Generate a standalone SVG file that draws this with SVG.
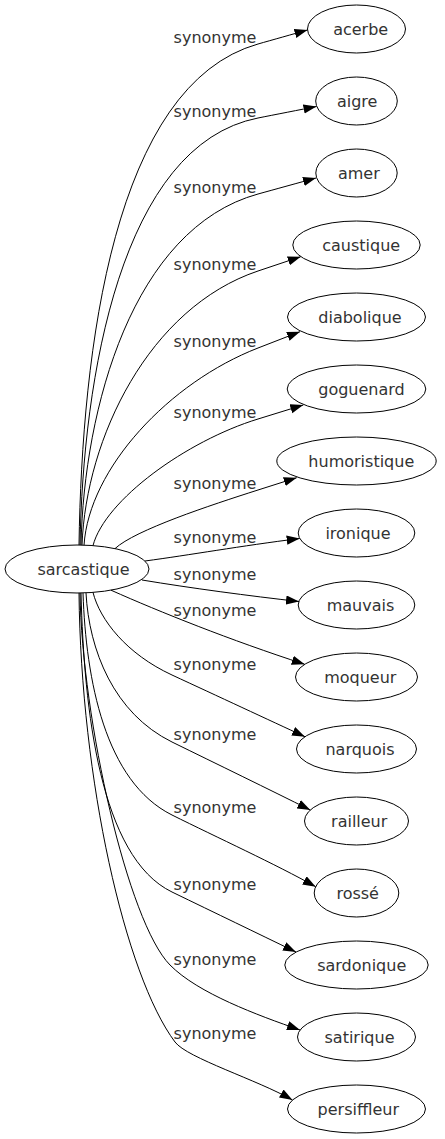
<svg xmlns="http://www.w3.org/2000/svg" width="445" height="1139" viewBox="0 0 445 1139">
<style>
.node ellipse{fill:none;stroke:#000;stroke-width:1}
text{font-family:"DejaVu Sans","Liberation Sans",sans-serif;font-size:16px;fill:#333;text-anchor:middle}
.edges path{fill:none;stroke:#000;stroke-width:1;marker-end:url(#arr)}
</style>
<defs>
<marker id="arr" markerUnits="userSpaceOnUse" markerWidth="14" markerHeight="10" refX="13" refY="4.67" orient="auto">
<path d="M0,0 L13,4.67 L0,9.33 z" fill="#000"/>
</marker>
</defs>
<rect width="445" height="1139" fill="#fff"/>
<g id="edges" class="edges">
<path d="M79,545 C82,350 113.5,84.8 258,44 C272.4,39.9 293.1,34.1 307.5,30"/>
<path d="M80,545 C83,378.5 120.7,145 258,118 C272.7,115.1 301.8,109.4 316.5,106.5"/>
<path d="M81,545 C84,408 132.7,228.6 258,194 C272.5,190 301.5,182 316,178"/>
<path d="M82,545.2 C86,438 149,307.6 258,271 C272.2,266.2 286.5,261.5 300.7,256.7"/>
<path d="M84,545.3 C89,468 169.5,382.4 258,348 C272,342.6 286,337.1 300,331.7"/>
<path d="M93,545.6 C105,500 186.3,441 258,419 C273,414.3 288.3,409.6 303.3,405"/>
<path d="M115,548.6 C135,530 210.4,505.2 258,490 C271,485.9 283.8,481.8 296.7,477.7"/>
<path d="M145,561 C190,555 240,546 299.7,538.5"/>
<path d="M142,580 C190,588 250,596 299,601.5"/>
<path d="M111,590.2 C160,612 230,640 304.7,664.3"/>
<path d="M93,592.4 C100,620 126.6,654 172,675 C217.4,696 268.7,719.9 305,736.7"/>
<path d="M86,592.9 C89,650 113.7,713.3 172,742 C216.9,764 269.9,789.8 310.3,810"/>
<path d="M83,593 C86,680 104.9,781.5 172,815 C216.8,837.3 276,864.4 315.7,886.7"/>
<path d="M81,593 C84,710 100,857.2 172,892 C217,913.8 255.5,932.4 296,952"/>
<path d="M80,593 C82,720 128,922.4 170,965 C198,993.4 257.7,1015.2 300,1030"/>
<path d="M79,593 C81,780 125,975 175,1042 C187,1058 257.8,1080 292.5,1100"/>
</g>
<g id="edge-labels">
<text x="215" y="42.5">synonyme</text>
<text x="215" y="116.5">synonyme</text>
<text x="215" y="192.5">synonyme</text>
<text x="215" y="269.5">synonyme</text>
<text x="215" y="346.5">synonyme</text>
<text x="215" y="417.5">synonyme</text>
<text x="215" y="488.5">synonyme</text>
<text x="215" y="542.5">synonyme</text>
<text x="215" y="579.5">synonyme</text>
<text x="215" y="615.5">synonyme</text>
<text x="215" y="669.5">synonyme</text>
<text x="215" y="739.5">synonyme</text>
<text x="215" y="812.5">synonyme</text>
<text x="215" y="889.5">synonyme</text>
<text x="215" y="964.5">synonyme</text>
<text x="215" y="1039">synonyme</text>
</g>
<g id="sarcastique" class="node"><ellipse cx="77" cy="569" rx="72" ry="24"/><text x="83.5" y="574.7">sarcastique</text></g>
<g id="acerbe" class="node"><ellipse cx="356.5" cy="29" rx="49" ry="24"/><text x="360.7" y="34.7">acerbe</text></g>
<g id="aigre" class="node"><ellipse cx="356.5" cy="101" rx="40.8" ry="24"/><text x="357.2" y="106.7">aigre</text></g>
<g id="amer" class="node"><ellipse cx="356.5" cy="173" rx="40.7" ry="24"/><text x="358.8" y="178.7">amer</text></g>
<g id="caustique" class="node"><ellipse cx="356.5" cy="245" rx="63.7" ry="24"/><text x="361.2" y="250.7">caustique</text></g>
<g id="diabolique" class="node"><ellipse cx="356.5" cy="317" rx="69" ry="24"/><text x="360" y="322.7">diabolique</text></g>
<g id="goguenard" class="node"><ellipse cx="356.5" cy="389" rx="69.3" ry="24"/><text x="361.5" y="394.7">goguenard</text></g>
<g id="humoristique" class="node"><ellipse cx="356.5" cy="461" rx="79.7" ry="24"/><text x="361.3" y="466.7">humoristique</text></g>
<g id="ironique" class="node"><ellipse cx="356.5" cy="533" rx="58.3" ry="24"/><text x="358" y="538.7">ironique</text></g>
<g id="mauvais" class="node"><ellipse cx="356.5" cy="605" rx="58.3" ry="24"/><text x="360.5" y="610.7">mauvais</text></g>
<g id="moqueur" class="node"><ellipse cx="356.5" cy="677" rx="61" ry="24"/><text x="360.3" y="682.7">moqueur</text></g>
<g id="narquois" class="node"><ellipse cx="356.5" cy="749" rx="60" ry="24"/><text x="360" y="754.7">narquois</text></g>
<g id="railleur" class="node"><ellipse cx="356.5" cy="821" rx="52" ry="24"/><text x="359.2" y="826.7">railleur</text></g>
<g id="rosse" class="node"><ellipse cx="356.5" cy="893" rx="42.3" ry="24"/><text x="357.7" y="898.7">rossé</text></g>
<g id="sardonique" class="node"><ellipse cx="356.5" cy="965" rx="71.7" ry="24"/><text x="361.7" y="970.7">sardonique</text></g>
<g id="satirique" class="node"><ellipse cx="356.5" cy="1037" rx="59" ry="24"/><text x="359.5" y="1042.7">satirique</text></g>
<g id="persiffleur" class="node"><ellipse cx="356.5" cy="1109" rx="69" ry="24"/><text x="358.3" y="1114.7">persiffleur</text></g>
</svg>
